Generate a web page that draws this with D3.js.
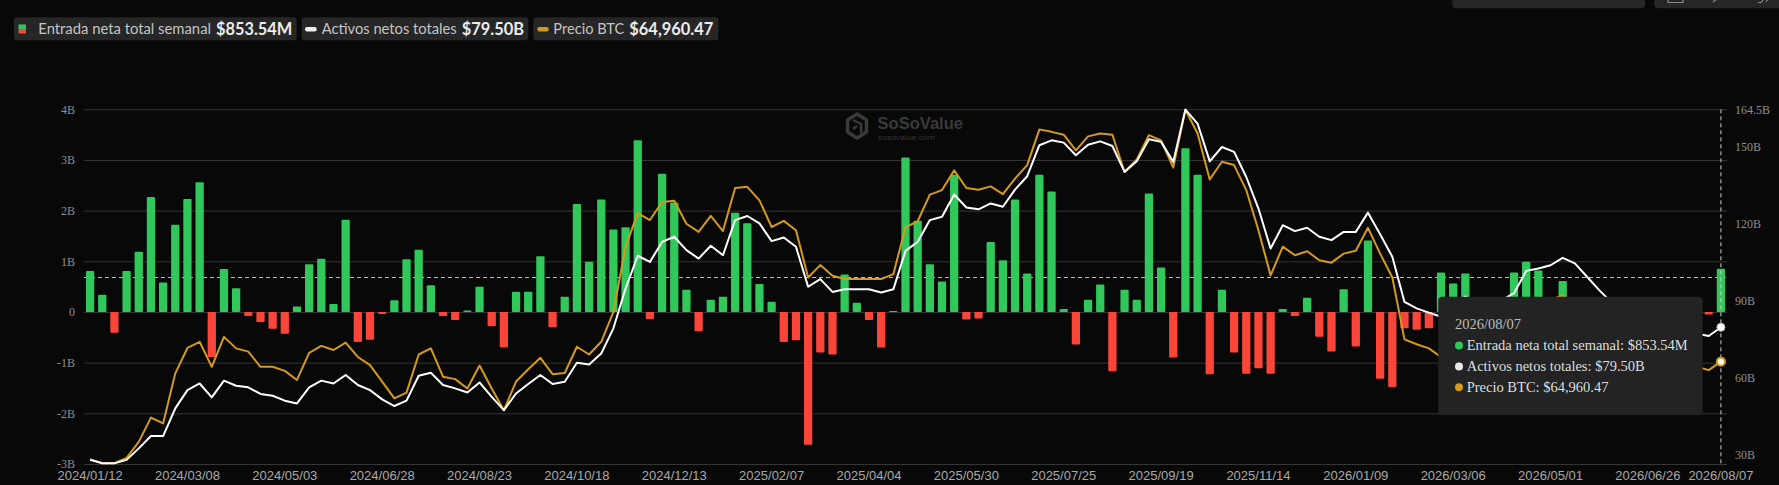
<!DOCTYPE html>
<html><head><meta charset="utf-8">
<script src="https://cdn.jsdelivr.net/npm/d3@7/dist/d3.min.js"></script>
<style>html,body{margin:0;padding:0;background:#080808;overflow:hidden}</style>
</head><body>
<svg id="c" width="1779" height="485"></svg>
<script>
// ---------- DATA ----------
// weekly net inflow (billions USD), 2024/01/12 .. 2026/08/07
const flows = [0.81,0.34,-0.41,0.81,1.19,2.27,0.58,1.72,2.23,2.56,
-0.89,0.85,0.47,-0.08,-0.20,-0.33,-0.43,0.11,0.94,1.05,
0.16,1.82,-0.59,-0.55,-0.04,0.23,1.04,1.23,0.53,-0.08,
-0.16,0.03,0.50,-0.28,-0.70,0.40,0.40,1.10,-0.30,0.30,
2.13,0.99,2.22,1.63,1.67,3.39,-0.14,2.73,2.16,0.44,
-0.38,0.24,0.30,1.96,1.75,0.55,0.20,-0.59,-0.56,-2.62,
-0.80,-0.84,0.74,0.18,-0.16,-0.70,0.02,3.05,1.80,0.94,
0.60,2.71,-0.15,-0.13,1.38,1.02,2.22,0.76,2.71,2.38,
0.06,-0.64,0.24,0.54,-1.17,0.44,0.24,2.34,0.88,-0.90,
3.23,2.71,-1.23,0.44,-0.80,-1.22,-1.11,-1.22,0.06,-0.08,
0.28,-0.49,-0.78,0.45,-0.68,1.41,-1.32,-1.48,-0.32,-0.35,
-0.32,0.78,0.56,0.76,-0.35,-0.25,0.15,0.78,0.99,0.82,
0.20,0.61,-0.30,-0.60,-0.45,-0.20,-0.35,0.10,-0.15,0.12,
-0.25,-0.10,-0.20,-0.05,0.85354];
// total net assets (billions USD)
const assets = [27.8,26.5,26.5,27.8,32.3,37.1,37.1,47.9,55.0,57.6,
52.2,58.7,56.7,56.1,53.5,52.8,50.9,49.8,56.1,58.7,
57.6,60.9,57.0,55.0,51.4,48.8,50.9,60.6,61.8,57.0,
55.7,54.1,58.0,52.4,47.2,53.7,57.4,60.9,57.4,58.3,
65.7,65.0,69.3,79.1,94.6,107.4,105.0,112.8,114.8,109.6,
106.3,111.3,107.6,121.3,122.9,120.0,113.1,114.5,110.9,95.3,
98.3,93.3,94.3,94.3,94.3,93.1,94.3,109.3,112.8,121.3,
122.6,131.3,126.2,125.5,127.8,126.5,133.2,138.4,150.5,152.4,
151.5,146.6,150.7,152.0,150.2,140.1,144.2,152.8,151.8,144.0,
164.4,158.9,144.2,149.8,147.9,138.1,125.8,110.2,119.3,117.0,
118.3,114.8,113.5,116.7,116.7,124.2,115.8,107.0,89.4,86.9,
85.2,83.6,88.1,91.5,88.9,87.8,90.1,92.8,101.5,102.4,
103.7,106.6,104.4,99.2,94.0,89.3,86.2,84.3,82.3,81.1,
80.0,78.4,77.1,76.1,79.50];
// BTC price (thousands USD)
const btc = [41.2,40.2,40.2,41.5,45.4,51.3,49.9,62.1,68.3,69.8,
63.7,71.0,68.2,67.4,63.7,63.7,62.7,60.5,67.1,68.8,
67.8,69.6,66.1,64.1,60.1,56.0,57.4,66.7,68.2,61.3,
60.7,58.4,64.0,58.4,53.1,60.1,63.1,65.9,61.9,62.2,
68.6,66.7,69.8,77.1,93.0,101.2,99.5,103.9,104.2,98.6,
96.6,100.5,96.8,107.3,107.6,104.3,97.8,99.3,97.0,85.5,
88.5,85.9,85.1,85.1,85.1,85.1,86.3,97.7,99.2,105.7,
106.8,111.6,107.3,106.9,107.7,105.8,109.6,112.9,121.6,121.0,
120.3,116.5,119.9,120.6,120.3,111.2,114.3,120.2,118.9,112.3,
126.4,120.6,109.4,113.7,112.9,106.8,97.0,86.0,93.0,90.9,
91.9,89.7,89.1,91.3,92.0,97.6,91.3,85.5,70.4,69.2,
68.2,66.1,64.8,65.3,66.3,67.3,69.7,73.9,78.7,79.2,
80.0,81.2,78.7,75.6,72.6,70.7,69.0,67.8,66.6,65.8,
64.8,64.4,63.7,62.9,64.96047];
const tickLabels = ["2024/01/12","2024/03/08","2024/05/03","2024/06/28","2024/08/23","2024/10/18",
"2024/12/13","2025/02/07","2025/04/04","2025/05/30","2025/07/25","2025/09/19","2025/11/14",
"2026/01/09","2026/03/06","2026/05/01","2026/06/26","2026/08/07"];
const leftTicks = [-3,-2,-1,0,1,2,3,4];
const rightTicks = [30,60,90,120,150,164.5];
const crosshairFlow = 0.68;
const seriesNames = ["Entrada neta total semanal","Activos netos totales","Precio BTC"];
const legendValues = ["$853.54M","$79.50B","$64,960.47"];
const tooltipDate = "2026/08/07";

// ---------- SETUP ----------
const fmt = d3.utcFormat("%Y/%m/%d");
const dates = d3.utcDay.range(new Date(Date.UTC(2024,0,12)), new Date(Date.UTC(2026,7,8)), 7).map(fmt);
const svg = d3.select("#c");
const W = 1779, H = 485;
const L = 84, R = 1727, T = 109.3, B = 464;
const GREEN = "#30c85a", RED = "#fb4539", ORANGE = "#d49a1e", WHITE = "#ffffff";

svg.append("rect").attr("width", W).attr("height", H).attr("fill", "#080808");

const x = d3.scaleBand().domain(dates).range([L, R]).paddingInner(0).paddingOuter(0);
const cx = d => x(d) + x.bandwidth() / 2;
const yL = d3.scaleLinear().domain([-3, 4]).range([B, T]);
const yR = d3.scaleLinear().domain([26.2, 164.5]).range([B, T]);
const yP = d3.scaleLinear().domain([40.0, 126.5]).range([B, T]);

// top-right partial controls
svg.append("rect").attr("x", 1452.3).attr("y", -12).attr("width", 192.7).attr("height", 20.3).attr("rx", 4).attr("fill", "#262626");
svg.append("rect").attr("x", 1654.3).attr("y", -12).attr("width", 140).attr("height", 20.3).attr("rx", 4).attr("fill", "#262626");
const ic = svg.append("g").attr("stroke", "#8a8a8a").attr("stroke-width", 1.2).attr("fill", "none");
ic.append("path").attr("d", "M1668,-2 V2.5 H1683 V-2");
ic.append("path").attr("d", "M1713,2 L1717,-1");
ic.append("path").attr("d", "M1758,2 Q1761,4 1763,0 M1766,2 L1768,-1");

// legend
const lg = svg.append("g").attr("font-family", "Lato, 'Noto Sans', sans-serif");
const boxes = [
  {x0: 14, x1: 296.7, lx: 38.3, lw: 172.7, vx: 216, vw: 76.3},
  {x0: 301.7, x1: 528.3, lx: 321.7, lw: 135, vx: 461.7, vw: 62.3},
  {x0: 533.3, x1: 718.3, lx: 553.3, lw: 71, vx: 629.3, vw: 84}
];
boxes.forEach((b, i) => {
  lg.append("rect").attr("x", b.x0).attr("y", 17.3).attr("width", b.x1 - b.x0).attr("height", 23).attr("rx", 3).attr("fill", "#262626");
  lg.append("text").attr("x", b.lx).attr("y", 34).attr("fill", "#c4c4c4").attr("font-size", 14.5)
    .attr("textLength", b.lw).attr("lengthAdjust", "spacingAndGlyphs").text(seriesNames[i]);
  lg.append("text").attr("x", b.vx).attr("y", 34.5).attr("fill", "#ececec").attr("font-size", 16.5).attr("font-weight", 700)
    .attr("textLength", b.vw).attr("lengthAdjust", "spacingAndGlyphs").text(legendValues[i]);
});
lg.append("rect").attr("x", 18.5).attr("y", 24.5).attr("width", 7.5).attr("height", 4.5).attr("fill", GREEN);
lg.append("rect").attr("x", 18.5).attr("y", 29).attr("width", 7.5).attr("height", 4.5).attr("fill", RED);
lg.append("rect").attr("x", 305).attr("y", 27).attr("width", 11.7).attr("height", 4.5).attr("rx", 2).attr("fill", "#f0f0f0");
lg.append("rect").attr("x", 537.3).attr("y", 27).attr("width", 11.4).attr("height", 4.5).attr("rx", 2).attr("fill", ORANGE);

// watermark
const wm = svg.append("g");
const hex = d3.range(6).map(k => { const a = Math.PI / 3 * k - Math.PI / 2; return [857 + 11 * Math.cos(a), 126 + 12 * Math.sin(a)]; });
wm.append("path").attr("d", d3.line().curve(d3.curveLinearClosed)(hex)).attr("fill", "none").attr("stroke", "#3a3a3a").attr("stroke-width", 3.5).attr("stroke-linejoin", "round");
wm.append("path").attr("d", "M853,120 L861,124 L861,133 M857,126 L853,129").attr("fill", "none").attr("stroke", "#3a3a3a").attr("stroke-width", 2.5);
wm.append("text").attr("x", 877.5).attr("y", 128.8).attr("font-family", "'Liberation Sans', Arial, sans-serif").attr("font-weight", 700)
  .attr("font-size", 16.5).attr("fill", "#3a3a3a").attr("textLength", 85.5).attr("lengthAdjust", "spacingAndGlyphs").text("SoSoValue");
wm.append("text").attr("x", 878).attr("y", 140).attr("font-family", "'Liberation Sans', Arial, sans-serif")
  .attr("font-size", 7.6).attr("fill", "#333").attr("textLength", 57).attr("lengthAdjust", "spacingAndGlyphs").text("sosovalue.com");

// left axis + grid
const gL = svg.append("g").attr("transform", `translate(${L},0)`)
  .call(d3.axisLeft(yL).tickValues(leftTicks).tickSize(-(R - L)).tickPadding(9).tickFormat(d => d === 0 ? "0" : d + "B"));
gL.select(".domain").remove();
gL.selectAll("line").attr("stroke", "#353535");
gL.selectAll("text").attr("fill", "#8e8e8e").attr("font-family", "'Liberation Serif', 'DejaVu Serif', serif").attr("font-size", 12);

// right axis
const gR = svg.append("g").attr("transform", `translate(${R},0)`)
  .call(d3.axisRight(yR).tickValues(rightTicks).tickSize(0).tickPadding(8).tickFormat(d => d + "B"));
gR.select(".domain").remove();
gR.selectAll("text").attr("fill", "#8e8e8e").attr("font-family", "'Liberation Serif', 'DejaVu Serif', serif").attr("font-size", 12);

// bottom axis
const gB = svg.append("g").attr("transform", `translate(0,${B})`)
  .call(d3.axisBottom(x).tickValues(tickLabels).tickSize(0).tickPadding(7));
gB.select(".domain").remove();
gB.selectAll("text").attr("fill", "#a8a8a8").attr("font-family", "'Liberation Sans', Arial, sans-serif").attr("font-size", 13);

// horizontal crosshair
svg.append("line").attr("x1", L).attr("x2", R).attr("y1", yL(crosshairFlow)).attr("y2", yL(crosshairFlow))
  .attr("stroke", "#bdbdbd").attr("stroke-width", 1).attr("stroke-dasharray", "4,3");

// bars
const bw = x.bandwidth() * 0.68;
svg.append("g").selectAll("rect").data(dates).join("rect")
  .attr("x", d => cx(d) - bw / 2)
  .attr("y", (d, i) => Math.min(yL(0), yL(flows[i])))
  .attr("width", bw)
  .attr("height", (d, i) => Math.max(1, Math.abs(yL(flows[i]) - yL(0))))
  .attr("rx", 1)
  .attr("fill", (d, i) => flows[i] >= 0 ? GREEN : RED);

// lines
svg.append("path").attr("d", d3.line().x(d => cx(d)).y((d, i) => yP(btc[i]))(dates))
  .attr("fill", "none").attr("stroke", ORANGE).attr("stroke-width", 2).attr("stroke-linejoin", "round");
svg.append("path").attr("d", d3.line().x(d => cx(d)).y((d, i) => yR(assets[i]))(dates))
  .attr("fill", "none").attr("stroke", WHITE).attr("stroke-width", 2).attr("stroke-linejoin", "round");

// vertical crosshair at hovered date
const hi = dates.indexOf(tooltipDate);
const hx = cx(tooltipDate);
svg.append("line").attr("x1", hx).attr("x2", hx).attr("y1", T).attr("y2", B)
  .attr("stroke", "#cfcfcf").attr("stroke-width", 1).attr("stroke-dasharray", "4,3");
svg.append("circle").attr("cx", hx).attr("cy", yR(assets[hi])).attr("r", 4).attr("fill", "#ffffff").attr("stroke", "#bbbbbb").attr("stroke-width", 1);
svg.append("circle").attr("cx", hx).attr("cy", yP(btc[hi])).attr("r", 4).attr("fill", "#ffffff").attr("stroke", ORANGE).attr("stroke-width", 2);

// tooltip
const tt = svg.append("g").attr("font-family", "'Liberation Serif', 'Times New Roman', serif");
tt.append("rect").attr("x", 1438.3).attr("y", 296.7).attr("width", 264.4).attr("height", 118.3).attr("rx", 4).attr("fill", "#232323");
tt.append("text").attr("x", 1455).attr("y", 329).attr("font-size", 14.5).attr("fill", "#bdbdbd").text(tooltipDate);
const ttLines = [
  seriesNames[0] + ": " + legendValues[0],
  seriesNames[1] + ": " + legendValues[1],
  seriesNames[2] + ": " + legendValues[2]
];
const ttColors = [GREEN, "#e6e6e6", ORANGE];
ttLines.forEach((s, k) => {
  const by = 350 + k * 20.9;
  tt.append("circle").attr("cx", 1459).attr("cy", by - 4.5).attr("r", 4).attr("fill", ttColors[k]);
  tt.append("text").attr("x", 1466.7).attr("y", by).attr("font-size", 14.5).attr("fill", "#dedede").text(s);
});
</script>
</body></html>
